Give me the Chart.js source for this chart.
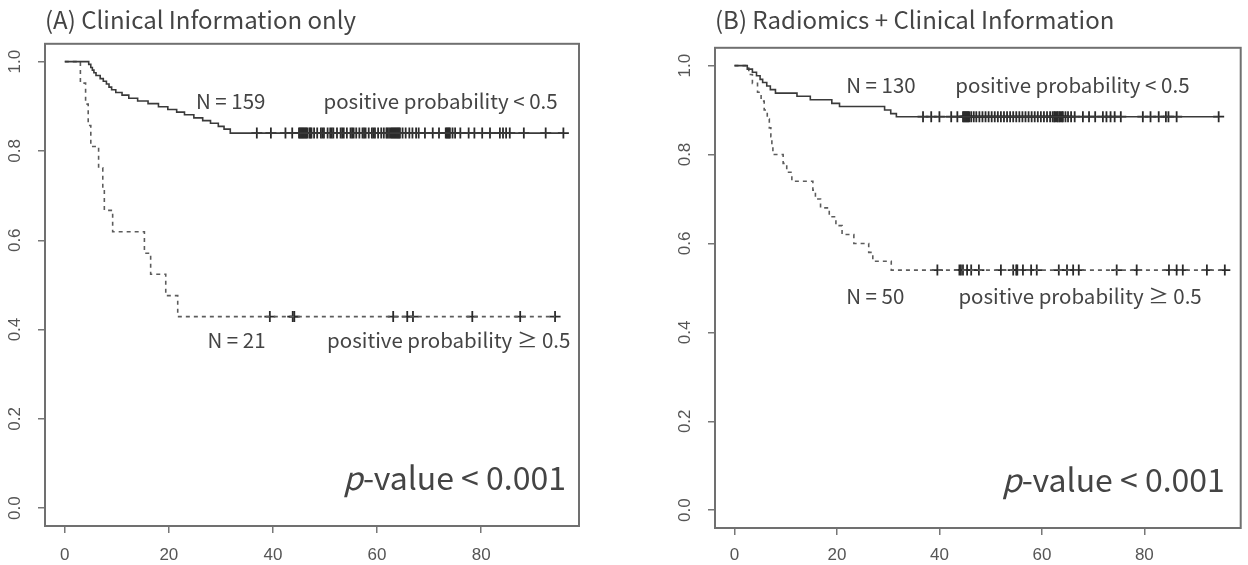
<!DOCTYPE html>
<html>
<head>
<meta charset="utf-8">
<script src="https://cdn.jsdelivr.net/npm/chart.js@4.4.1/dist/chart.umd.min.js"></script>
<style>
  html, body { margin: 0; padding: 0; background: #fff; }
  #wrap { position: relative; width: 1248px; height: 565px; overflow: hidden; }
  .panel { position: absolute; top: 0; }
</style>
</head>
<body>
<div id="wrap">
  <div class="panel" style="left:0"><canvas id="chartA" width="620" height="565"></canvas></div>
  <div class="panel" style="left:620px"><canvas id="chartB" width="628" height="565"></canvas></div>
</div>
<script>
const xTicks = [0, 20, 40, 60, 80];
const yTicks = [0, 0.2, 0.4, 0.6, 0.8, 1.0];

// (A) Clinical Information only
const aLowTime = [0, 4.6, 5.0, 5.3, 5.6, 6.0, 6.8, 7.4, 8.0, 8.5, 9.0, 9.8, 11.0, 12.3, 14.0, 16.0, 18.0, 19.8, 21.5, 23.0, 24.8, 26.5, 28.0, 29.5, 30.6, 31.8];
const aLowSurv = [1.000, 0.994, 0.987, 0.981, 0.975, 0.969, 0.962, 0.956, 0.950, 0.943, 0.937, 0.931, 0.925, 0.918, 0.912, 0.906, 0.899, 0.893, 0.887, 0.881, 0.874, 0.868, 0.862, 0.855, 0.849, 0.840];
const aLowCens = [36.9, 39.6, 42.4, 43.7, 45.0, 45.2, 45.4, 45.6, 45.8, 46.0, 46.2, 46.4, 46.6, 47.0, 47.2, 47.4, 47.9, 48.5, 49.2, 49.5,
  49.8, 50.5, 51.0, 51.3, 51.6, 52.3, 53.0, 53.3, 53.6, 54.2, 54.9, 55.2, 55.5, 56.0, 56.6, 57.2, 57.5, 57.8, 58.4, 59.0,
  59.3, 59.6, 60.2, 60.8, 61.3, 61.8, 62.0, 62.3, 62.6, 62.8, 63.0, 63.2, 63.4, 63.6, 63.8, 64.0, 64.2, 64.4, 64.9, 65.5,
  66.2, 66.8, 67.5, 68.0, 69.2, 70.7, 71.9, 73.2, 73.4, 73.6, 73.8, 74.0, 74.5, 75.0, 76.0, 77.6, 78.7, 80.2, 81.7, 83.6,
  84.2, 84.8, 85.5, 88.2, 92.4, 95.8];
const aHighTime = [0, 3.0, 4.0, 4.5, 5.0, 6.5, 7.3, 7.6, 9.2, 15.3, 16.5, 19.4, 21.7];
const aHighSurv = [1.000, 0.952, 0.905, 0.857, 0.810, 0.762, 0.714, 0.667, 0.619, 0.571, 0.524, 0.476, 0.429];
const aHighCens = [39.4, 43.8, 44.1, 63.1, 65.8, 66.9, 78.3, 87.5, 94.2];

// (B) Radiomics + Clinical Information
const bLowTime = [0, 2.5, 3.5, 4.3, 5.0, 5.5, 6.3, 7.0, 8.0, 12.2, 14.8, 19.0, 20.5, 29.3, 30.5, 31.6];
const bLowSurv = [1.000, 0.992, 0.985, 0.977, 0.969, 0.962, 0.954, 0.946, 0.938, 0.931, 0.923, 0.915, 0.908, 0.900, 0.892, 0.885];
const bLowCens = [36.8, 38.4, 40.0, 42.3, 43.5, 44.6, 44.8, 45.0, 45.2, 45.4, 45.6, 45.8, 46.2, 46.7, 47.2, 47.8, 48.4, 49.0, 49.6, 50.2,
  50.8, 51.4, 52.0, 52.6, 53.2, 53.8, 54.4, 55.0, 55.6, 56.2, 56.8, 57.4, 58.0, 58.6, 59.2, 59.8, 60.4, 61.0, 61.6, 62.1,
  62.4, 62.6, 62.9, 63.1, 63.4, 63.6, 63.9, 64.1, 64.6, 65.1, 65.7, 66.4, 68.0, 69.2, 70.4, 71.9, 72.6, 73.4, 74.2, 75.4,
  79.7, 81.2, 82.8, 84.2, 84.7, 86.3, 94.5];
const bHighTime = [0, 2.8, 3.5, 4.5, 5.2, 5.8, 6.4, 6.8, 7.1, 7.3, 7.5, 9.5, 10.2, 11.2, 15.3, 15.8, 16.8, 18.5, 19.8, 21.0, 23.3, 26.2, 27.0, 30.6];
const bHighSurv = [1.00, 0.98, 0.96, 0.94, 0.92, 0.90, 0.88, 0.86, 0.84, 0.82, 0.80, 0.78, 0.76, 0.74, 0.72, 0.70, 0.68, 0.66, 0.64, 0.62, 0.60, 0.58, 0.56, 0.54];
const bHighCens = [39.6, 43.9, 44.2, 44.6, 45.4, 46.2, 47.7, 52.0, 54.4, 55.0, 55.2, 56.3, 57.9, 59.0, 63.3, 64.9, 66.1, 67.2, 74.6, 78.5,
  84.8, 86.3, 87.5, 92.2, 95.7];

const TEXT = '#444';
const FONT_JP = '"Noto Sans CJK JP", "Noto Sans", sans-serif';

// survival value of a step curve at time t
function survAt(times, surv, t) {
  let s = surv[0];
  times.forEach((tt, i) => { if (tt <= t) s = surv[i]; });
  return s;
}

function curvePoints(times, surv, cens) {
  const pts = times.map((t, i) => ({ x: t, y: surv[i] }));
  const last = Math.max(...cens);
  if (last > times[times.length - 1]) pts.push({ x: last, y: surv[surv.length - 1] });
  return pts;
}

function censPoints(times, surv, cens) {
  return cens.map(t => ({ x: t, y: survAt(times, surv, t) }));
}

// box around the plot + text labels in data coordinates
const boxPlugin = {
  id: 'kmBox',
  afterDraw(chart, args, opts) {
    const { ctx, chartArea: a, scales: { x, y } } = chart;
    ctx.save();
    ctx.strokeStyle = '#707070';
    ctx.lineWidth = 2;
    ctx.strokeRect(a.left, a.top, a.right - a.left, a.bottom - a.top);
    ctx.fillStyle = TEXT;
    ctx.textBaseline = 'middle';
    (opts.notes || []).forEach(n => {
      const parts = n.parts || [{ text: n.text }];
      let w = 0;
      parts.forEach(p => {
        ctx.font = `${p.italic ? 'italic ' : ''}${n.size}px ${FONT_JP}`;
        p.w = ctx.measureText(p.text).width;
        w += p.w;
      });
      let px = x.getPixelForValue(n.x);
      if (n.align === 'right') px -= w;
      const py = y.getPixelForValue(n.y);
      ctx.textAlign = 'left';
      parts.forEach(p => {
        ctx.font = `${p.italic ? 'italic ' : ''}${n.size}px ${FONT_JP}`;
        ctx.fillText(p.text, px, py);
        px += p.w;
      });
    });
    ctx.restore();
  }
};

function makeChart(id, cfg) {
  const tickFont = { family: '"Liberation Sans", Arial, sans-serif', size: 17 };
  const cens = { pointStyle: 'cross', pointRadius: 5.5, borderColor: '#2a2a2a', borderWidth: 1.8, backgroundColor: '#2a2a2a' };
  return new Chart(document.getElementById(id), {
    type: 'scatter',
    data: {
      datasets: [
        { type: 'line', data: curvePoints(cfg.lowT, cfg.lowS, cfg.lowC), stepped: true, borderColor: '#3a3a3a', borderWidth: 1.6, pointRadius: 0, fill: false },
        { type: 'line', data: curvePoints(cfg.highT, cfg.highS, cfg.highC), stepped: true, borderColor: '#5c5c5c', borderWidth: 1.6, borderDash: [4, 4], pointRadius: 0, fill: false },
        { data: censPoints(cfg.lowT, cfg.lowS, cfg.lowC), ...cens },
        { data: censPoints(cfg.highT, cfg.highS, cfg.highC), ...cens }
      ]
    },
    options: {
      responsive: false,
      animation: false,
      layout: { padding: cfg.padding },
      scales: {
        x: {
          type: 'linear', min: -3.8, max: 98.8,
          afterBuildTicks: s => { s.ticks = xTicks.map(v => ({ value: v })); },
          afterFit: s => { s.height = cfg.xHeight; },
          grid: { drawOnChartArea: false, drawTicks: true, tickLength: 7, color: '#777', lineWidth: 1.5 },
          border: { display: false },
          ticks: { maxRotation: 0, padding: cfg.xPad, color: '#555', font: tickFont, callback: v => String(v) }
        },
        y: {
          type: 'linear', min: -0.04, max: 1.04,
          afterBuildTicks: s => { s.ticks = yTicks.map(v => ({ value: v })); },
          afterFit: s => { s.width = 45; },
          grid: { drawOnChartArea: false, drawTicks: true, tickLength: 7, color: '#777', lineWidth: 1.5 },
          border: { display: false },
          ticks: { minRotation: 90, maxRotation: 90, crossAlign: 'center', padding: 11, color: '#555', font: tickFont, callback: v => v.toFixed(1) }
        }
      },
      plugins: {
        legend: { display: false },
        tooltip: { enabled: false },
        title: {
          display: true, text: cfg.title, align: 'start', fullSize: false, color: TEXT,
          font: { family: FONT_JP, size: 24, weight: 'normal' }, padding: cfg.titlePad
        },
        kmBox: { notes: cfg.notes }
      }
    },
    plugins: [boxPlugin]
  });
}

makeChart('chartA', {
  title: '(A) Clinical Information only',
  lowT: aLowTime, lowS: aLowSurv, lowC: aLowCens,
  highT: aHighTime, highS: aHighSurv, highC: aHighCens,
  padding: { left: 0, right: 41, top: 0, bottom: 0 },
  titlePad: { top: 5, bottom: 10 },
  xHeight: 39, xPad: 12,
  notes: [
    { text: 'N = 159', x: 25.2, y: 0.912, size: 20.5 },
    { text: 'positive probability < 0.5', x: 49.7, y: 0.912, size: 20.5 },
    { text: 'N = 21', x: 27.4, y: 0.377, size: 20.5 },
    { text: 'positive probability \u2265 0.5', x: 50.4, y: 0.377, size: 20.5 },
    { parts: [{ text: 'p', italic: true }, { text: '-value < 0.001' }], x: 96.3, y: 0.067, size: 32, align: 'right' }
  ]
});

makeChart('chartB', {
  title: '(B) Radiomics + Clinical Information',
  lowT: bLowTime, lowS: bLowSurv, lowC: bLowCens,
  highT: bHighTime, highS: bHighSurv, highC: bHighCens,
  padding: { left: 50, right: 3, top: 0, bottom: 0 },
  titlePad: { top: 5, bottom: 14 },
  xHeight: 37, xPad: 10,
  notes: [
    { text: 'N = 130', x: 21.8, y: 0.957, size: 20.5 },
    { text: 'positive probability < 0.5', x: 43.1, y: 0.957, size: 20.5 },
    { text: 'N = 50', x: 21.8, y: 0.482, size: 20.5 },
    { text: 'positive probability \u2265 0.5', x: 43.7, y: 0.482, size: 20.5 },
    { parts: [{ text: 'p', italic: true }, { text: '-value < 0.001' }], x: 95.7, y: 0.068, size: 32, align: 'right' }
  ]
});
</script>
</body>
</html>
